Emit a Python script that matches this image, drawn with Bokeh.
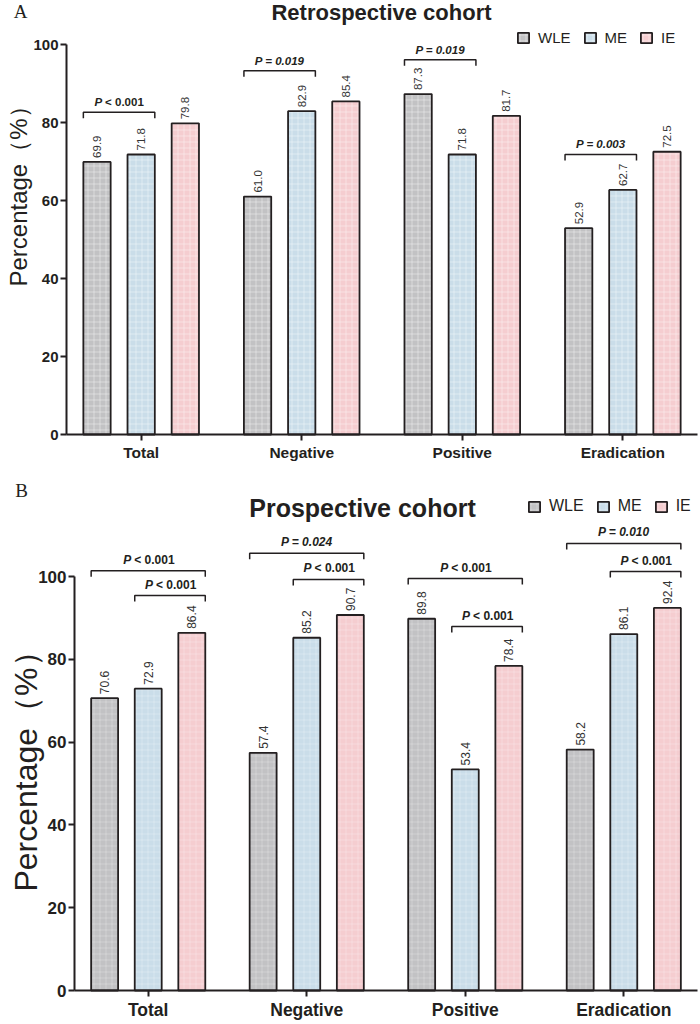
import math

from bokeh.core.properties import value
from bokeh.embed import file_html
from bokeh.layouts import column
from bokeh.models import ColumnDataSource, FixedTicker, Label, Legend, LegendItem, Range1d
from bokeh.plotting import figure
from bokeh.resources import INLINE

# ---- data -------------------------------------------------------------
categories = ["Total", "Negative", "Positive", "Eradication"]
groups = ["WLE", "ME", "IE"]

retro_wle = [69.9, 61.0, 87.3, 52.9]
retro_me = [71.8, 82.9, 71.8, 62.7]
retro_ie = [79.8, 85.4, 81.7, 72.5]

pro_wle = [70.6, 57.4, 89.8, 58.2]
pro_me = [72.9, 85.2, 53.4, 86.1]
pro_ie = [86.4, 90.7, 78.4, 92.4]

# pairwise comparisons: (category, first group, second group, bracket level, p text)
retro_tests = [
    ("Total", "WLE", "ME", 82.6, "< 0.001"),
    ("Negative", "WLE", "ME", 93.3, "= 0.019"),
    ("Positive", "WLE", "ME", 96.1, "= 0.019"),
    ("Eradication", "WLE", "ME", 71.8, "= 0.003"),
]
pro_tests = [
    ("Total", "WLE", "IE", 101.4, "< 0.001"),
    ("Total", "ME", "IE", 95.4, "< 0.001"),
    ("Negative", "WLE", "IE", 105.6, "= 0.024"),
    ("Negative", "ME", "IE", 99.3, "< 0.001"),
    ("Positive", "WLE", "IE", 99.5, "< 0.001"),
    ("Positive", "ME", "IE", 87.9, "< 0.001"),
    ("Eradication", "WLE", "IE", 108.0, "= 0.010"),
    ("Eradication", "ME", "IE", 101.2, "< 0.001"),
]

y_ticks = [0, 20, 40, 60, 80, 100]

# ---- styling ----------------------------------------------------------
OFFSET = {"WLE": -0.275, "ME": 0.0, "IE": 0.275}
BAR_W = 0.17
X_LO, X_HI = -0.465, 3.465
FILL = {"WLE": "#c2c2c4", "ME": "#cadde9", "IE": "#f5cdd0"}
INK = "#231f20"
SANS = "Liberation Sans"


def build_panel(series, tests, *, height, ax_left, ax_right, ax_y, ppu,
                title, title_size, title_xy, tick_size, cat_size, p_size, val_size,
                ylab_size, ylab_xy, letter, letter_xy, legend_loc, legend_size,
                hatch_alpha):
    # the plot frame fills the whole canvas; axes are pinned at fixed data locations
    xpx = (ax_right - ax_left) / (X_HI - X_LO)
    x_start = X_LO - ax_left / xpx
    x_end = X_HI + (700 - ax_right) / xpx
    y_start = -(height - ax_y) / ppu
    y_end = ax_y / ppu

    p = figure(width=700, height=height, output_backend="svg", toolbar_location=None,
               x_range=Range1d(x_start, x_end), y_range=Range1d(y_start, y_end),
               min_border=0, outline_line_color=None,
               background_fill_color="white", border_fill_color="white")
    p.grid.visible = False

    def dx(px):
        return x_start + px / xpx

    def dy(py):
        return y_end - py / ppu

    # bars with rotated value labels
    renderers = {}
    for g in groups:
        vals = series[g]
        src = ColumnDataSource(dict(x=[i + OFFSET[g] for i in range(len(categories))], top=vals,
                                    lab=[f"{v:.1f}" for v in vals]))
        renderers[g] = p.vbar(x="x", top="top", width=BAR_W, bottom=0, source=src,
                              fill_color=FILL[g], line_color=INK, line_width=1.8,
                              hatch_pattern="cross", hatch_color="white",
                              hatch_alpha=hatch_alpha, hatch_scale=6, hatch_weight=0.7)
        p.text(x="x", y="top", text="lab", source=src, angle=math.pi / 2,
               text_align="left", text_baseline="middle", y_offset=-4,
               text_font=value(SANS), text_font_size=val_size, text_color="#333333")

    # significance brackets
    leg = 6 / ppu
    bx, by, tx, ty, tfull, tless = [], [], [], [], [], []
    for cat, ga, gb, lvl, ptxt in tests:
        ci = categories.index(cat)
        x0 = ci + OFFSET[ga] - BAR_W / 2
        x1 = ci + OFFSET[gb] + BAR_W / 2
        bx.append([x0, x0, x1, x1])
        by.append([lvl - leg, lvl, lvl, lvl - leg])
        tx.append((x0 + x1) / 2)
        ty.append(lvl + 4 / ppu)
        tfull.append(ptxt)
        tless.append(ptxt.startswith("<"))
    p.multi_line(xs=bx, ys=by, line_color=INK, line_width=1.5)

    eq = ColumnDataSource(dict(x=[x for x, l in zip(tx, tless) if not l],
                               y=[y for y, l in zip(ty, tless) if not l],
                               t=["P " + t for t, l in zip(tfull, tless) if not l]))
    p.text(x="x", y="y", text="t", source=eq, text_align="center", text_baseline="bottom",
           text_font=value(SANS), text_font_style="bold italic",
           text_font_size=p_size, text_color=INK)
    lt = ColumnDataSource(dict(x=[x for x, l in zip(tx, tless) if l],
                               y=[y for y, l in zip(ty, tless) if l],
                               t=[t for t, l in zip(tfull, tless) if l],
                               P=["P" for l in tless if l]))
    p.text(x="x", y="y", text="P", source=lt, text_align="right", text_baseline="bottom",
           x_offset=-17, text_font=value(SANS), text_font_style="bold italic",
           text_font_size=p_size, text_color=INK)
    p.text(x="x", y="y", text="t", source=lt, text_align="left", text_baseline="bottom",
           x_offset=-14, text_font=value(SANS), text_font_style="bold",
           text_font_size=p_size, text_color=INK)

    # axes, pinned to the value axis origin
    xa = p.xaxis[0]
    xa.fixed_location = 0
    xa.bounds = (X_LO, X_HI)
    xa.ticker = FixedTicker(ticks=list(range(len(categories))))
    xa.major_label_overrides = {i: c for i, c in enumerate(categories)}
    xa.minor_tick_line_color = None
    xa.major_tick_in = 0
    xa.major_tick_out = 6
    xa.major_label_standoff = 3
    xa.axis_line_width = 2
    xa.axis_line_color = INK
    xa.major_tick_line_width = 2
    xa.major_tick_line_color = INK
    xa.major_label_text_font = SANS
    xa.major_label_text_font_style = "bold"
    xa.major_label_text_font_size = cat_size
    xa.major_label_text_color = INK

    ya = p.yaxis[0]
    ya.fixed_location = X_LO
    ya.ticker = FixedTicker(ticks=y_ticks)
    ya.bounds = (0, 100)
    ya.minor_tick_line_color = None
    ya.major_tick_in = 0
    ya.major_tick_out = 6
    ya.major_label_standoff = 2
    ya.axis_line_width = 2
    ya.axis_line_color = INK
    ya.major_tick_line_width = 2
    ya.major_tick_line_color = INK
    ya.major_label_text_font = SANS
    ya.major_label_text_font_style = "bold"
    ya.major_label_text_font_size = tick_size
    ya.major_label_text_color = INK

    p.add_layout(Label(x=dx(ylab_xy[0]), y=dy(ylab_xy[1]), text="Percentage（%）",
                       angle=math.pi / 2, text_align="center", text_baseline="middle",
                       text_font=SANS, text_font_size=ylab_size, text_color=INK))
    p.add_layout(Label(x=dx(letter_xy[0]), y=dy(letter_xy[1]), text=letter,
                       text_align="center", text_baseline="middle",
                       text_font="Liberation Serif", text_font_size="19px", text_color=INK))
    p.add_layout(Label(x=dx(title_xy[0]), y=dy(title_xy[1]), text=title,
                       text_align="center", text_baseline="middle",
                       text_font=SANS, text_font_style="bold",
                       text_font_size=title_size, text_color=INK))

    legend = Legend(items=[LegendItem(label=g, renderers=[renderers[g]]) for g in groups],
                    orientation="horizontal", location=legend_loc,
                    glyph_width=14, glyph_height=13, label_standoff=8, spacing=12,
                    padding=0, margin=0, label_height=14,
                    label_text_font=SANS, label_text_font_size=legend_size,
                    label_text_color=INK, background_fill_alpha=0,
                    border_line_color=None)
    p.add_layout(legend)
    return p


top = build_panel({"WLE": retro_wle, "ME": retro_me, "IE": retro_ie}, retro_tests,
                  height=470, ax_left=66, ax_right=697, ax_y=434, ppu=3.9,
                  title="Retrospective cohort", title_size="22px", title_xy=(381, 12),
                  tick_size="15px", cat_size="15.5px", p_size="11.5px", val_size="11.5px",
                  ylab_size="24px", ylab_xy=(18, 190), letter="A", letter_xy=(20, 11),
                  legend_loc=(516, 424), legend_size="15px", hatch_alpha=0.55)

bottom = build_panel({"WLE": pro_wle, "ME": pro_me, "IE": pro_ie}, pro_tests,
                     height=554, ax_left=74, ax_right=697, ax_y=520, ppu=4.14,
                     title="Prospective cohort", title_size="25px", title_xy=(362, 37),
                     tick_size="17px", cat_size="17.5px", p_size="12px", val_size="12px",
                     ylab_size="32px", ylab_xy=(25, 293), letter="B", letter_xy=(21, 20),
                     legend_loc=(527, 509), legend_size="16px", hatch_alpha=0.35)

layout = column(top, bottom, spacing=0)
open("out.html", "w").write(file_html(layout, INLINE))
